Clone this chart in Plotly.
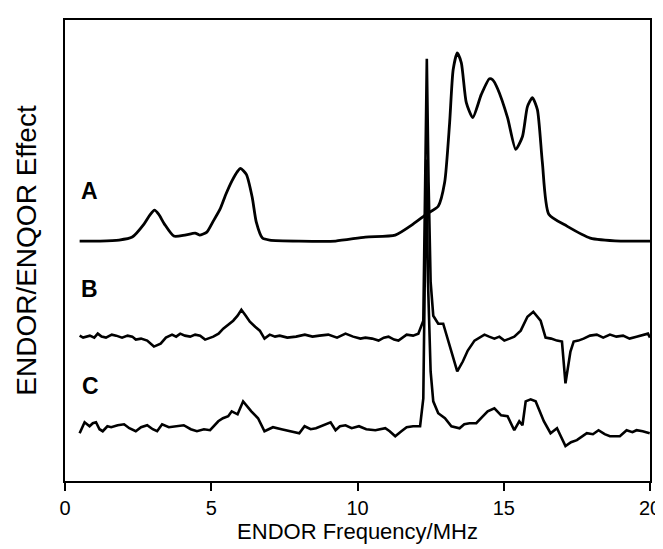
import plotly.graph_objects as go

# Trace A
a_x = [0.5, 1.2, 1.85, 2.3, 2.7, 2.9, 3.06, 3.2, 3.4, 3.72, 4.1, 4.45, 4.6, 4.85, 5.05, 5.3, 5.5, 5.7, 5.9, 6.0, 6.2, 6.4, 6.54, 6.75, 7.0, 8.0, 9.25, 10.27, 11.29, 11.9,
       12.36, 12.76, 12.98, 13.15, 13.27, 13.41, 13.55, 13.72, 13.94, 14.23, 14.51, 14.62, 14.79, 15.13, 15.41, 15.64, 15.81, 15.98, 16.15, 16.32, 16.54, 17.16, 17.96, 19.0, 20.0]
a_y = [241, 241, 242, 245, 258, 267, 272, 268, 258, 246, 247, 249, 247, 250, 260, 273, 288, 301, 311, 314, 308, 285, 260, 244, 242, 241, 241, 245, 247, 258,
       268, 276, 300, 360, 413, 430, 420, 380, 365, 388, 404, 403, 394, 365, 333, 346, 376, 385, 373, 320, 268, 256, 244, 241, 241]

# Trace B
b_x = [0.5, 0.62, 0.85, 1.0, 1.12, 1.25, 1.4, 1.6, 1.75, 1.95, 2.14, 2.3, 2.42, 2.6, 2.81, 3.04, 3.27, 3.45, 3.66, 3.8, 3.94, 4.1, 4.28, 4.45, 4.62, 4.79, 5.07,
       5.25, 5.41, 5.6, 5.75, 5.9, 6.03, 6.18, 6.32, 6.5, 6.66, 6.82, 7.0, 7.18, 7.34, 7.6, 7.9, 8.2, 8.46, 8.7, 9.0, 9.3, 9.59, 9.85, 10.1, 10.27, 10.5,
       10.72, 10.9, 11.06, 11.25, 11.4, 11.68, 11.9, 12.08, 12.25, 12.31, 12.37, 12.43, 12.5, 12.59, 12.76, 12.93, 13.1, 13.41, 13.6, 13.77,
       14.0, 14.17, 14.34, 14.5, 14.68, 14.85, 15.02, 15.2, 15.36, 15.58, 15.81, 16.01, 16.26, 16.43, 16.62, 16.82, 16.99, 17.11, 17.28, 17.39, 17.55,
       17.73, 17.95, 18.18, 18.4, 18.63, 18.85, 19.08, 19.3, 19.54, 19.75, 19.93, 20.0]
b_y = [146, 144, 146, 144, 148, 145, 144, 147, 146, 144, 146, 145, 142, 143, 141, 135, 138, 144, 147, 145, 148, 146, 145, 147, 146, 142, 145,
       148, 153, 158, 161, 166, 172, 166, 160, 155, 151, 143, 147, 145, 146, 144, 145, 147, 145, 146, 147, 144, 148, 145, 143, 144, 143,
       141, 144, 145, 142, 141, 147, 146, 148, 161, 300, 424, 300, 200, 166, 158, 158, 140, 110, 120, 131,
       141, 144, 147, 145, 143, 145, 141, 143, 145, 151, 165, 170, 161, 144, 143, 141, 140, 98, 130, 140, 141,
       143, 146, 147, 144, 147, 145, 146, 143, 145, 147, 148, 144]

# Trace C
c_x = [0.5, 0.67, 0.84, 0.95, 1.06, 1.18, 1.29, 1.45, 1.58, 1.8, 2.02, 2.2, 2.42, 2.6, 2.81, 3.0, 3.15, 3.32, 3.55, 3.8, 4.06, 4.3, 4.51, 4.75, 4.96,
       5.24, 5.4, 5.58, 5.7, 5.9, 6.09, 6.37, 6.6, 6.82, 7.11, 7.4, 7.73, 8.01, 8.19, 8.4, 8.58, 8.85, 9.08, 9.25, 9.4, 9.59, 9.8, 10.05, 10.3, 10.61,
       10.95, 11.1, 11.29, 11.5, 11.68, 11.9, 12.14, 12.25, 12.31, 12.35, 12.41, 12.5, 12.59, 12.76, 12.99, 13.21, 13.49, 13.65,
       13.83, 14.06, 14.25, 14.45, 14.68, 14.91, 15.13, 15.36, 15.53, 15.64, 15.75, 15.92, 16.09, 16.37, 16.6, 16.82, 17.11, 17.3, 17.5, 17.84, 18.05,
       18.24, 18.45, 18.63, 18.97, 19.2, 19.4, 19.54, 19.75, 19.99]
c_y = [48, 59, 55, 58, 59, 52, 50, 55, 54, 56, 57, 53, 50, 54, 56, 52, 50, 57, 54, 55, 56, 52, 50, 52, 51,
       60, 63, 65, 70, 67, 80, 70, 63, 50, 54, 52, 50, 48, 55, 52, 53, 56, 59, 51, 55, 56, 53, 55, 52, 51,
       53, 50, 45, 50, 54, 55, 55, 83, 200, 323, 200, 110, 80, 68, 63, 55, 53, 57,
       58, 58, 64, 70, 73, 66, 65, 51, 60, 56, 80, 82, 80, 60, 48, 53, 35, 39, 41, 48, 47,
       51, 47, 45, 45, 51, 49, 51, 50, 48]

labels = ["A", "B", "C"]
label_x = [0.84, 0.84, 0.88]
label_y = [291, 193, 95]

x_ticks = [0, 5, 10, 15, 20]

FONT = "Arial, 'Liberation Sans', sans-serif"

fig = go.Figure()
fig.add_trace(go.Scatter(x=a_x, y=a_y, mode="lines", line=dict(color="black", width=2.8, shape="spline", smoothing=0.6), showlegend=False))
fig.add_trace(go.Scatter(x=b_x, y=b_y, mode="lines", line=dict(color="black", width=2.6), showlegend=False))
fig.add_trace(go.Scatter(x=c_x, y=c_y, mode="lines", line=dict(color="black", width=2.6), showlegend=False))

for t, lx, ly in zip(labels, label_x, label_y):
    fig.add_annotation(x=lx, y=ly, text="<b>" + t + "</b>", showarrow=False,
                       font=dict(family=FONT, size=23, color="black"), xanchor="center", yanchor="middle")

fig.update_layout(
    width=663, height=549,
    margin=dict(l=57, r=16, t=10, b=76),
    paper_bgcolor="white", plot_bgcolor="white",
    font=dict(family=FONT, color="black"),
    xaxis=dict(range=[0, 20], tickvals=x_ticks, ticks="outside", ticklen=8, tickwidth=1.6, tickcolor="black",
               showline=True, linecolor="black", linewidth=1.6, mirror=True, showgrid=False, zeroline=False,
               tickfont=dict(size=20), title=dict(text="ENDOR Frequency/MHz", font=dict(size=22), standoff=4)),
    yaxis=dict(range=[0, 463], showticklabels=False, ticks="", showline=True, linecolor="black", linewidth=1.6,
               mirror=True, showgrid=False, zeroline=False,
               title=dict(text="ENDOR/ENQOR Effect", font=dict(size=28), standoff=18)),
)

fig.write_html("out.html")
